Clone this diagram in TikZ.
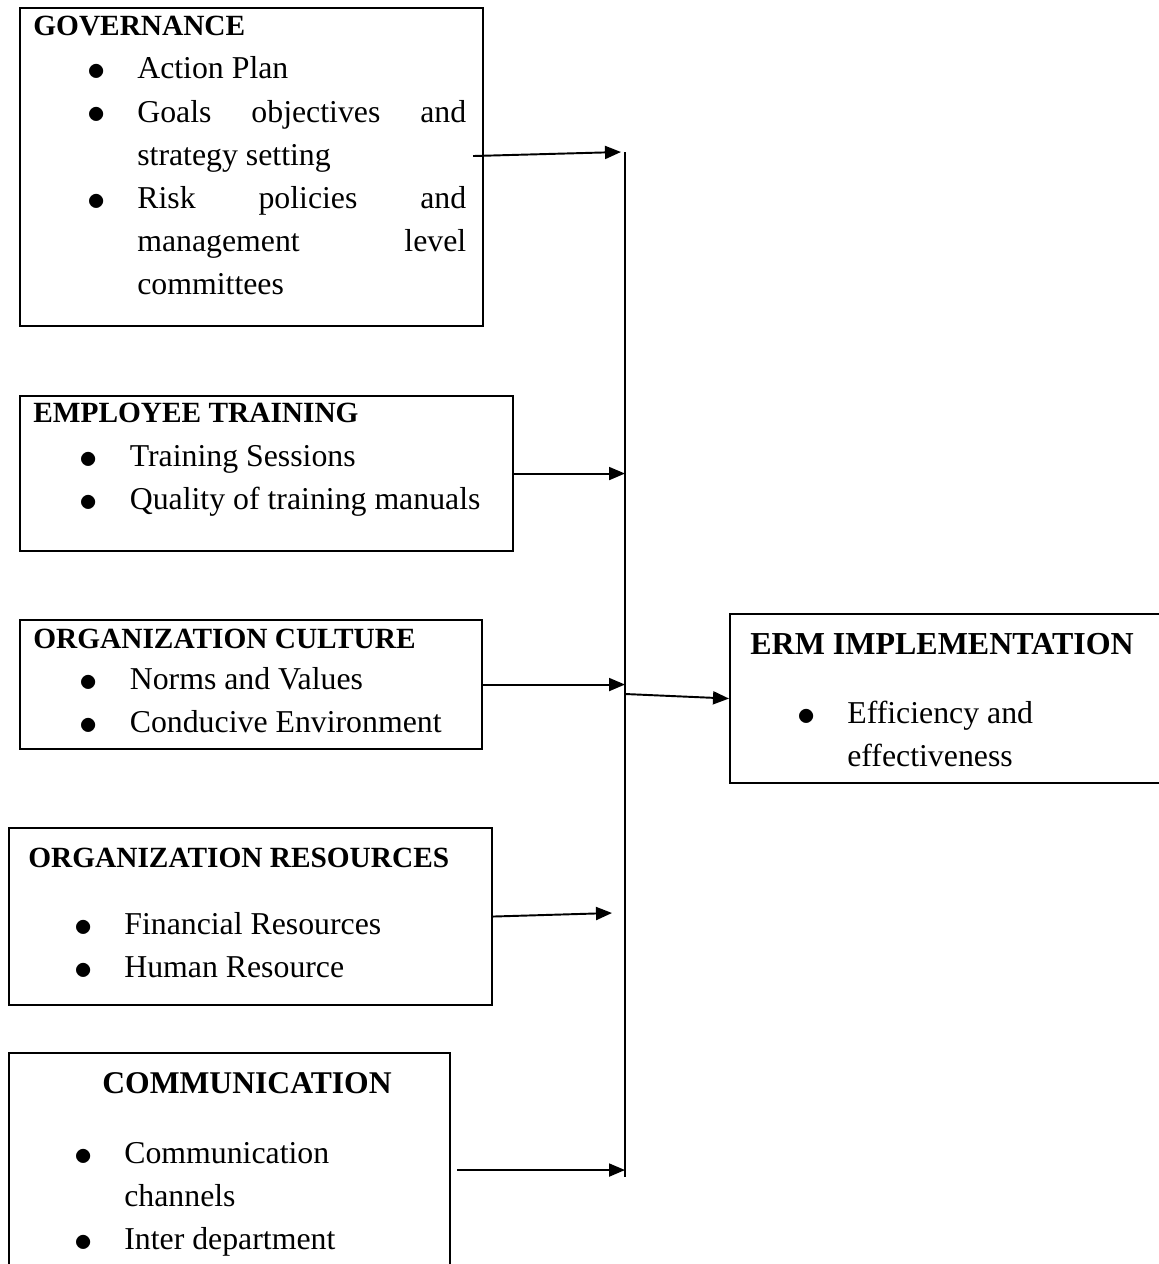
\documentclass[tikz,border=0pt]{standalone}
\usepackage{fontspec}
\setmainfont{Liberation Serif}
\usetikzlibrary{arrows.meta,positioning}
\newlength{\bulw}\setlength{\bulw}{1cm}
\newcommand{\bitem}[1]{\makebox[\bulw][l]{\raisebox{-0.03cm}{\fontsize{21}{21}\selectfont$\bullet$}}#1}
\newcommand{\bcont}[1]{\hspace*{\bulw}#1}
\newcommand{\jline}[1]{\makebox[6.58cm][s]{#1}}
\begin{document}
\begin{tikzpicture}[x=0.02cm,y=-0.02cm,
  box/.style={draw,line width=1.2pt,anchor=north west,inner sep=0pt},
  ttl/.style={anchor=base west,inner sep=0pt,font=\fontsize{16.7}{24.6}\selectfont\bfseries},
  lst/.style={anchor=base west,inner sep=0pt,align=left,font=\fontsize{18.1}{24.6}\selectfont},
  arr/.style={-{Triangle[length=0.32cm,width=0.26cm]},line width=1.1pt}]
\useasboundingbox (0,0) rectangle (1159,1264);

% boxes
\node [box,minimum width=9.26cm,minimum height=6.36cm] (gov) at (19,7) {};
\node [box,minimum width=9.86cm,minimum height=3.10cm] (train) at (19,395) {};
\node [box,minimum width=9.24cm,minimum height=2.58cm] (cult) at (19,619) {};
\node [box,minimum width=9.67cm,minimum height=3.54cm] (res) at (7.5,827) {};
\node [box,minimum width=8.83cm,minimum height=4.68cm] (comm) at (7.5,1052) {};
\node [box,minimum width=9.00cm,minimum height=3.38cm] (erm) at (729,613) {};

% titles and items (list nodes sit on their last line)
\node [ttl] (govttl) at ([xshift=0.28cm,yshift=-0.58cm]gov.north west) {GOVERNANCE};
\node [lst] (govlist) at ([xshift=1.36cm,yshift=-5.76cm]gov.north west) {\bitem{Action Plan}\\
  \bitem{\jline{Goals objectives and}}\\
  \bcont{strategy setting}\\
  \bitem{\jline{Risk policies and}}\\
  \bcont{\jline{management level}}\\
  \bcont{committees}};

\node [ttl] (trainttl) at ([xshift=0.28cm,yshift=-0.56cm]train.north west) {EMPLOYEE TRAINING};
\node [lst] (trainlist) at ([xshift=1.21cm,yshift=-2.30cm]train.north west) {\bitem{Training Sessions}\\
  \bitem{Quality of training manuals}};

\node [ttl] (cultttl) at ([xshift=0.28cm,yshift=-0.58cm]cult.north west) {ORGANIZATION CULTURE};
\node [lst] (cultlist) at ([xshift=1.21cm,yshift=-2.28cm]cult.north west) {\bitem{Norms and Values}\\
  \bitem{Conducive Environment}};

\node [ttl] (resttl) at ([xshift=0.41cm,yshift=-0.80cm]res.north west) {ORGANIZATION RESOURCES};
\node [lst] (reslist) at ([xshift=1.33cm,yshift=-3.02cm]res.north west) {\bitem{Financial Resources}\\
  \bitem{Human Resource}};

\node [ttl,font=\fontsize{18}{24.6}\selectfont\bfseries] (commttl) at ([xshift=1.89cm,yshift=-0.82cm]comm.north west) {COMMUNICATION};
\node [lst] (commlist) at ([xshift=1.33cm,yshift=-3.96cm]comm.north west) {\bitem{Communication}\\
  \bcont{channels}\\
  \bitem{Inter department}};

\node [ttl,font=\fontsize{18.2}{24.6}\selectfont\bfseries] (ermttl) at ([xshift=0.42cm,yshift=-0.84cm]erm.north west) {ERM IMPLEMENTATION};
\node [lst] (ermlist) at ([xshift=1.36cm,yshift=-3.08cm]erm.north west) {\bitem{Efficiency and}\\
  \bcont{effectiveness}};

% connectors
\coordinate (bustop) at (625,152);
\coordinate (busbot) at (625,1177);
\coordinate (hub) at (625,694);
\coordinate (restip) at (612,913);
\draw [line width=1pt] (bustop) -- (busbot);
\draw [arr] ([xshift=-0.22cm,yshift=0.22cm]gov.east) -- ([xshift=-0.08cm]bustop);
\draw [arr] (train.east) -- (train.east -| bustop);
\draw [arr] (cult.east) -- (cult.east -| bustop);
\draw [arr] (res.east) -- (restip);
\draw [arr] ([xshift=0.12cm]comm.east) -- (comm.east -| bustop);
\draw [arr] (hub) -- (erm.west);
\end{tikzpicture}
\end{document}
